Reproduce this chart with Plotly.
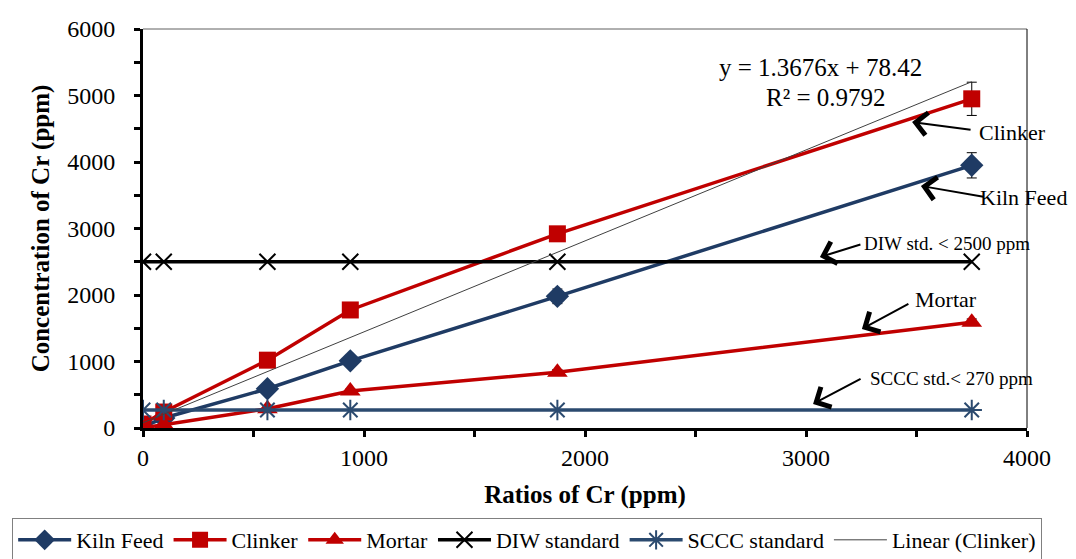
import plotly.graph_objects as go

ratios = [0, 94, 563, 938, 1875, 3750]
kiln_feed = [20, 150, 590, 1010, 1980, 3950]
kiln_feed_err = [10, 20, 30, 40, 110, 190]
clinker = [60, 240, 1020, 1775, 2920, 4950]
clinker_err = [10, 20, 40, 50, 100, 250]
mortar = [5, 50, 290, 555, 840, 1590]
mortar_err = [5, 10, 20, 30, 40, 50]
diw_std = [2500, 2500, 2500, 2500, 2500, 2500]
sccc_std = [270, 270, 270, 270, 270, 270]
trend_slope = 1.3676
trend_intercept = 78.42
trend_r2 = 0.9792

FONT = "Liberation Serif"
BLUE = "#1F3B64"
RED = "#C00000"
SBLUE = "#2B4A6F"

fig = go.Figure()
eb = lambda arr: dict(type="data", array=arr, visible=True, color="black", thickness=1, width=5)

fig.add_trace(go.Scatter(x=ratios, y=kiln_feed, name="Kiln Feed", mode="lines+markers",
                         line=dict(color=BLUE, width=3.5),
                         marker=dict(symbol="diamond", size=18, color=BLUE),
                         error_y=eb(kiln_feed_err)))
fig.add_trace(go.Scatter(x=ratios, y=clinker, name="Clinker", mode="lines+markers",
                         line=dict(color=RED, width=3.5),
                         marker=dict(symbol="square", size=17, color=RED),
                         error_y=eb(clinker_err)))
fig.add_trace(go.Scatter(x=ratios, y=mortar, name="Mortar", mode="lines+markers",
                         line=dict(color=RED, width=3.5),
                         marker=dict(symbol="triangle-up", size=18, color=RED),
                         error_y=eb(mortar_err)))
fig.add_trace(go.Scatter(x=ratios, y=diw_std, name="DIW standard", mode="lines+markers",
                         line=dict(color="black", width=3.5),
                         marker=dict(symbol="x-thin", size=16, line=dict(color="black", width=2))))
fig.add_trace(go.Scatter(x=ratios, y=sccc_std, name="SCCC standard", mode="lines+markers",
                         line=dict(color=SBLUE, width=3.5),
                         marker=dict(symbol="asterisk", size=17, line=dict(color=SBLUE, width=2))))
tx = [ratios[0], ratios[-1]]
ty = [trend_slope * v + trend_intercept for v in tx]
fig.add_trace(go.Scatter(x=tx, y=ty, name="Linear (Clinker)", mode="lines",
                         line=dict(color="#404040", width=1)))

arrow = dict(showarrow=True, arrowhead=4, arrowsize=2.2, arrowwidth=2, arrowcolor="black",
             text="", axref="pixel", ayref="pixel")
annots = []
for (x, y, ax, ay) in [(3480, 4602, 60, 8), (3520, 3640, 64, 11), (3063, 2571, 42, -13),
                       (3253, 1489, 48, -26), (3032, 361, 49, -26)]:
    annots.append(dict(x=x, y=y, ax=ax, ay=ay, **arrow))

def txt(x, y, t, size):
    return dict(x=x, y=y, text=t, showarrow=False, xanchor="left", yanchor="middle",
                font=dict(family=FONT, size=size, color="black"))

annots += [
    txt(3774, 4451, "Clinker", 22),
    txt(3778, 3459, "Kiln Feed", 22),
    txt(3253, 2782, "DIW std. < 2500 ppm", 19),
    txt(3484, 1925, "Mortar", 22),
    txt(3281, 737, "SCCC std.< 270 ppm", 19),
    txt(2597, 5414, f"y = {trend_slope}x + {trend_intercept}", 25),
    txt(2810, 4977, f"R² = {trend_r2}", 25),
]

fig.update_layout(
    width=1076, height=559,
    margin=dict(l=143, r=49, t=29, b=131, autoexpand=False),
    paper_bgcolor="white", plot_bgcolor="white",
    font=dict(family=FONT, size=24, color="black"),
    showlegend=True,
    legend=dict(orientation="h", x=-0.148, y=-0.2256, xanchor="left", yanchor="top",
                bordercolor="#808080", borderwidth=1, font=dict(family=FONT, size=22),
                itemwidth=53, tracegroupgap=0),
    annotations=annots,
    shapes=[
        dict(type="line", xref="paper", yref="paper", x0=0, x1=1, y0=1, y1=1,
             line=dict(color="#606060", width=1)),
        dict(type="line", xref="paper", yref="paper", x0=1, x1=1, y0=0, y1=1,
             line=dict(color="black", width=1)),
    ],
)
fig.update_xaxes(range=[0, 4000], tickvals=[0, 1000, 2000, 3000, 4000],
                 showgrid=False, zeroline=False, showline=True, linecolor="black", linewidth=3,
                 ticks="outside", ticklen=6, tickwidth=3, tickcolor="black",
                 minor=dict(dtick=500, ticks="outside", ticklen=6, tickwidth=3, tickcolor="black"),
                 tickfont=dict(family=FONT, size=24), ticklabelstandoff=0,
                 title=dict(text="<b>Ratios of Cr (ppm)</b>", font=dict(family=FONT, size=25), standoff=16))
fig.update_yaxes(range=[0, 6000], tickvals=[0, 1000, 2000, 3000, 4000, 5000, 6000],
                 showgrid=False, zeroline=False, showline=True, linecolor="black", linewidth=3,
                 ticks="outside", ticklen=6, tickwidth=3, tickcolor="black",
                 minor=dict(dtick=500, ticks="outside", ticklen=6, tickwidth=3, tickcolor="black"),
                 tickfont=dict(family=FONT, size=24), ticklabelstandoff=14,
                 title=dict(text="<b>Concentration of Cr (ppm)</b>", font=dict(family=FONT, size=25), standoff=11))

fig.write_html("out.html")
